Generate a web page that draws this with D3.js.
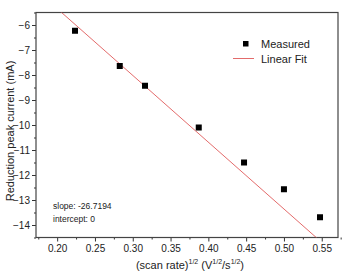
<!DOCTYPE html>
<html>
<head>
<meta charset="utf-8">
<script src="https://cdn.jsdelivr.net/npm/d3@7"></script>
<style>
  body { margin: 0; background: #fff; }
  svg text { font-family: "Liberation Sans", Arial, sans-serif; fill: #222; }
</style>
</head>
<body>
<div id="chart"></div>
<script>
// measured points: sqrt(scan rate) vs reduction peak current
var scanRoot = [0.2236, 0.2828, 0.3162, 0.3873, 0.4472, 0.5000, 0.5477];
var peakCurrent = [-6.23, -7.64, -8.43, -10.1, -11.5, -12.57, -13.69];
var fitSlope = -26.7194;
var fitIntercept = 0;
var xTicks = [0.20, 0.25, 0.30, 0.35, 0.40, 0.45, 0.50, 0.55];
var yTicks = [-14, -13, -12, -11, -10, -9, -8, -7, -6];

var width = 347, height = 273;
var margin = {top: 12.5, right: 9, bottom: 35.5, left: 36};

var svg = d3.select("#chart").append("svg")
    .attr("width", width)
    .attr("height", height);

var x = d3.scaleLinear()
    .domain([0.172, 0.5715])
    .range([margin.left, width - margin.right]);
var y = d3.scaleLinear()
    .domain([-14.5, -5.5])
    .range([height - margin.bottom, margin.top]);

// clip for fit line
svg.append("clipPath").attr("id", "plotclip")
  .append("rect")
    .attr("x", margin.left).attr("y", margin.top)
    .attr("width", width - margin.left - margin.right)
    .attr("height", height - margin.top - margin.bottom);

//axes
var xAxis = svg.append("g")
    .attr("transform", "translate(0," + (height - margin.bottom) + ")")
    .call(d3.axisBottom(x).tickValues(xTicks).tickFormat(d3.format(".2f")).tickSize(4).tickPadding(3));
var xMinor = svg.append("g")
    .attr("transform", "translate(0," + (height - margin.bottom) + ")")
    .call(d3.axisBottom(x).tickValues(xTicks.map(function(d){ return d + 0.025; }).concat([0.175]))
        .tickFormat("").tickSize(2));

var yAxis = svg.append("g")
    .attr("transform", "translate(" + margin.left + ",0)")
    .call(d3.axisLeft(y).tickValues(yTicks).tickSize(4).tickPadding(2));
var yMinor = svg.append("g")
    .attr("transform", "translate(" + margin.left + ",0)")
    .call(d3.axisLeft(y).tickValues(yTicks.map(function(d){ return d + 0.5; }).concat([-14.5]))
        .tickFormat("").tickSize(2));

[xAxis, xMinor, yAxis, yMinor].forEach(function(g){
    g.select(".domain").remove();
    g.selectAll("line").attr("stroke", "#333");
    g.selectAll("text").style("font-size", "10px").attr("fill", "#222");
});

// frame
svg.append("rect")
    .attr("x", margin.left).attr("y", margin.top)
    .attr("width", width - margin.left - margin.right)
    .attr("height", height - margin.top - margin.bottom)
    .attr("fill", "none")
    .attr("stroke", "#444")
    .attr("stroke-width", 1.2);

// fit line
var fitX = [0.17, 0.58];
svg.append("line")
    .attr("clip-path", "url(#plotclip)")
    .attr("x1", x(fitX[0])).attr("y1", y(fitSlope * fitX[0] + fitIntercept))
    .attr("x2", x(fitX[1])).attr("y2", y(fitSlope * fitX[1] + fitIntercept))
    .attr("stroke", "#e05a5a")
    .attr("stroke-width", 0.9);

// points
svg.selectAll("rect.pt")
    .data(scanRoot)
  .enter().append("rect")
    .attr("class", "pt")
    .attr("x", function(d){ return x(d) - 3; })
    .attr("y", function(d, i){ return y(peakCurrent[i]) - 3; })
    .attr("width", 6).attr("height", 6)
    .attr("fill", "#000");

// legend
svg.append("rect").attr("x", 243).attr("y", 41).attr("width", 5.5).attr("height", 5.5).attr("fill", "#000");
svg.append("text").attr("x", 261).attr("y", 48).style("font-size", "11px").text("Measured");
svg.append("line").attr("x1", 233).attr("x2", 254).attr("y1", 58.5).attr("y2", 58.5)
    .attr("stroke", "#e05a5a").attr("stroke-width", 0.9);
svg.append("text").attr("x", 261).attr("y", 62.5).style("font-size", "11px").text("Linear Fit");

// fit note
svg.append("text").attr("x", 53).attr("y", 209).style("font-size", "8.5px").text("slope: " + fitSlope);
svg.append("text").attr("x", 53).attr("y", 222).style("font-size", "8.5px").text("intercept: " + fitIntercept);

// axis titles
var xt = svg.append("text")
    .attr("x", 190).attr("y", 269)
    .attr("text-anchor", "middle")
    .style("font-size", "11px");
xt.append("tspan").text("(scan rate)");
xt.append("tspan").attr("dy", -5).style("font-size", "7px").text("1/2");
xt.append("tspan").attr("dy", 5).text(" (V");
xt.append("tspan").attr("dy", -5).style("font-size", "7px").text("1/2");
xt.append("tspan").attr("dy", 5).text("/s");
xt.append("tspan").attr("dy", -5).style("font-size", "7px").text("1/2");
xt.append("tspan").attr("dy", 5).text(")");

svg.append("text")
    .attr("transform", "translate(14,131) rotate(-90)")
    .attr("text-anchor", "middle")
    .style("font-size", "11px")
    .text("Reduction peak current (mA)");
</script>
</body>
</html>
